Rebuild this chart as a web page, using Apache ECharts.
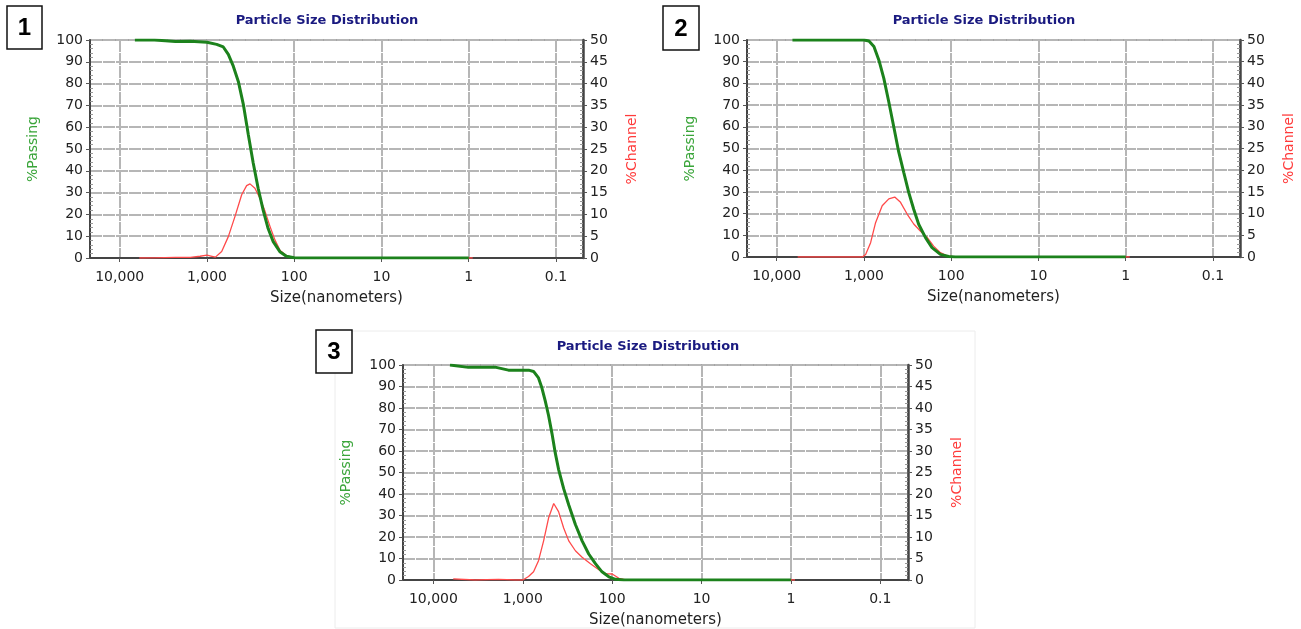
<!DOCTYPE html>
<html>
<head>
<meta charset="utf-8">
<script src="https://cdn.jsdelivr.net/npm/echarts@6/dist/echarts.min.js"></script>
<style>
  html, body { margin: 0; padding: 0; background: #fff; }
  #psd { width: 1301px; height: 629px; }
</style>
</head>
<body>
<div id="psd"></div>
<script>
// sample 1
const passSize1 = [6700, 4000, 3000, 2300, 1550, 1000, 774, 650, 569, 499, 437, 383, 336, 295, 259, 227, 199, 174, 146, 123, 100, 85, 10, 1]
const pass1 = [100, 100, 99.7, 99.3, 99.4, 99, 98, 96.8, 93.4, 88, 81, 70.5, 56.6, 43.6, 32, 22, 13.5, 7.5, 2.9, 0.8, 0.1, 0, 0, 0]
const chanSize1 = [5960, 4000, 2300, 1550, 1200, 1000, 900, 800, 678, 569, 478, 400, 351, 321, 282, 247, 216, 189, 166, 146, 123, 100, 85, 10, 0.9]
const chan1 = [0, 0.05, 0.15, 0.15, 0.4, 0.65, 0.45, 0.2, 1.5, 4.9, 9.5, 14.5, 16.6, 17, 16, 13.7, 10.7, 7.2, 4.1, 1.8, 0.55, 0.1, 0, 0, 0]

// sample 2
const passSize2 = [6600, 1000, 877, 769, 674, 592, 519, 455, 399, 350, 307, 269, 236, 197, 166, 133, 107, 90, 10, 1]
const pass2 = [100, 100, 99.5, 97, 90.7, 82.3, 71.4, 59.9, 48.3, 39, 29.8, 22, 15.1, 8.9, 4.3, 1.2, 0.2, 0, 0, 0]
const chanSize2 = [5750, 1040, 957, 839, 736, 618, 519, 444, 381, 320, 269, 226, 189, 159, 133, 112, 90, 10, 0.9]
const chan2 = [0, 0, 0.6, 3.3, 7.9, 11.8, 13.4, 13.8, 12.6, 9.9, 7.6, 6, 4.5, 2.5, 1, 0.25, 0, 0, 0]

// sample 3
const passSize3 = [6530, 4070, 2045, 1448, 1000, 860, 758, 667, 612, 562, 515, 472, 433, 398, 349, 306, 258, 217, 183, 154, 130, 109, 92, 74, 10, 1]
const pass3 = [100, 98.9, 99, 97.6, 97.6, 97.6, 97, 94, 89.4, 83.4, 76.5, 68.2, 59, 51.5, 42.5, 34.9, 25.8, 18.2, 12.1, 7.6, 3.8, 1.5, 0.3, 0, 0, 0]
const chanSize3 = [6000, 3430, 1870, 1217, 1000, 863, 758, 667, 585, 515, 451, 398, 349, 306, 258, 217, 175, 141, 119, 100, 84, 70, 10, 0.9]
const chan3 = [0.25, 0, 0.15, 0, 0, 0.8, 1.9, 4.5, 9.1, 14.4, 17.8, 15.9, 12.1, 9.1, 6.8, 5.3, 3.8, 2.4, 1.5, 1.4, 0.4, 0, 0, 0]

const titleText = 'Particle Size Distribution'
const panelLabels = ['1', '2', '3']

const font = 'DejaVu Sans'
const gridLine = { color: '#b6b6b6', width: 2, type: [12, 1] }

// pixel boxes of the three plots
const panels = [
    { grid: { left: 90, top: 40, width: 493, height: 218 }, passSize: passSize1, pass: pass1, chanSize: chanSize1, chan: chan1,
      titleX: 327, titleY: 21, box: [7, 6, 35, 43] },
    { grid: { left: 747, top: 40, width: 493, height: 217 }, passSize: passSize2, pass: pass2, chanSize: chanSize2, chan: chan2,
      titleX: 984, titleY: 21, box: [663, 6, 36, 44] },
    { grid: { left: 403, top: 365, width: 505, height: 220 }, passSize: passSize3, pass: pass3, chanSize: chanSize3, chan: chan3,
      titleX: 648, titleY: 347, box: [316, 330, 36, 43] }
]

const fmtSize = v => v >= 1000 ? v.toLocaleString('en-US') : String(+v.toPrecision(6))

const zip = (xs, ys) => xs.map((x, i) => [x, ys[i]])

const grid = [], xAxis = [], yAxis = [], series = [], graphic = []

// faint frame round the 3rd picture
graphic.push({ type: 'rect', shape: { x: 335, y: 331, width: 640, height: 297 }, style: { fill: null, stroke: '#ececec', lineWidth: 1 }, z: -1 })

panels.forEach((p, i) => {
    grid.push(Object.assign({ show: true, borderColor: '#888', borderWidth: 1.5, backgroundColor: '#fff' }, p.grid))

    xAxis.push({
        type: 'log', logBase: 10, gridIndex: i, inverse: true,
        min: 0.049, max: 21900,
        name: 'Size(nanometers)', nameLocation: 'middle', nameGap: 33,
        nameTextStyle: { color: '#222', fontSize: 15, fontFamily: font },
        axisLine: { onZero: false, lineStyle: { color: '#444', width: 2 } },
        axisTick: { length: 4, lineStyle: { color: '#555' } },
        axisLabel: { margin: 12, color: '#222', fontSize: 14, fontFamily: font, showMinLabel: false, showMaxLabel: false, formatter: fmtSize },
        splitLine: { show: true, lineStyle: gridLine }
    })

    yAxis.push({
        type: 'value', gridIndex: i, position: 'left', min: 0, max: 100, interval: 10,
        name: '%Passing', nameLocation: 'middle', nameGap: 50, nameRotate: 90,
        nameTextStyle: { color: '#3aa53a', fontSize: 14, fontFamily: font },
        axisLine: { show: true, lineStyle: { color: '#444', width: 2 } },
        axisTick: { show: true, length: 4, lineStyle: { color: '#555' } },
        minorTick: { show: true, splitNumber: 5, length: -3, lineStyle: { color: '#999' } },
        axisLabel: { margin: 7, color: '#222', fontSize: 14, fontFamily: font },
        splitLine: { show: true, lineStyle: gridLine }
    })
    yAxis.push({
        type: 'value', gridIndex: i, position: 'right', min: 0, max: 50, interval: 5,
        name: '%Channel', nameLocation: 'middle', nameGap: 42, nameRotate: 90,
        nameTextStyle: { color: '#ff3b3b', fontSize: 14, fontFamily: font },
        axisLine: { show: true, lineStyle: { color: '#444', width: 2.5 } },
        axisTick: { show: true, length: 4, lineStyle: { color: '#555' } },
        minorTick: { show: true, splitNumber: 5, length: -3, lineStyle: { color: '#999' } },
        axisLabel: { margin: 7, color: '#222', fontSize: 14, fontFamily: font },
        splitLine: { show: false }
    })

    series.push({
        name: '%Channel', type: 'line', xAxisIndex: i, yAxisIndex: i * 2 + 1,
        data: zip(p.chanSize, p.chan), showSymbol: false, z: 3,
        lineStyle: { color: '#ff4a4a', width: 1.3 }
    })
    series.push({
        name: '%Passing', type: 'line', xAxisIndex: i, yAxisIndex: i * 2,
        data: zip(p.passSize, p.pass), showSymbol: false, z: 4,
        lineStyle: { color: '#1c821c', width: 3 }
    })

    graphic.push({
        type: 'text', x: p.titleX, y: p.titleY,
        style: { text: titleText, font: 'bold 13px "DejaVu Sans"', fill: '#1a1a80', textAlign: 'center', textVerticalAlign: 'middle' }
    })
    const [bx, by, bw, bh] = p.box
    graphic.push({
        type: 'rect', shape: { x: bx, y: by, width: bw, height: bh },
        style: { fill: '#fff', stroke: '#111', lineWidth: 1.5 }
    })
    graphic.push({
        type: 'text', x: bx + bw / 2, y: by + bh / 2 + 1,
        style: { text: panelLabels[i], font: 'bold 24px "Liberation Sans"', fill: '#000', textAlign: 'center', textVerticalAlign: 'middle' }
    })
})

const myChart = echarts.init(document.getElementById('psd'))
myChart.setOption({
    animation: false,
    backgroundColor: '#fff',
    grid: grid,
    xAxis: xAxis,
    yAxis: yAxis,
    series: series,
    graphic: graphic
})
</script>
</body>
</html>
